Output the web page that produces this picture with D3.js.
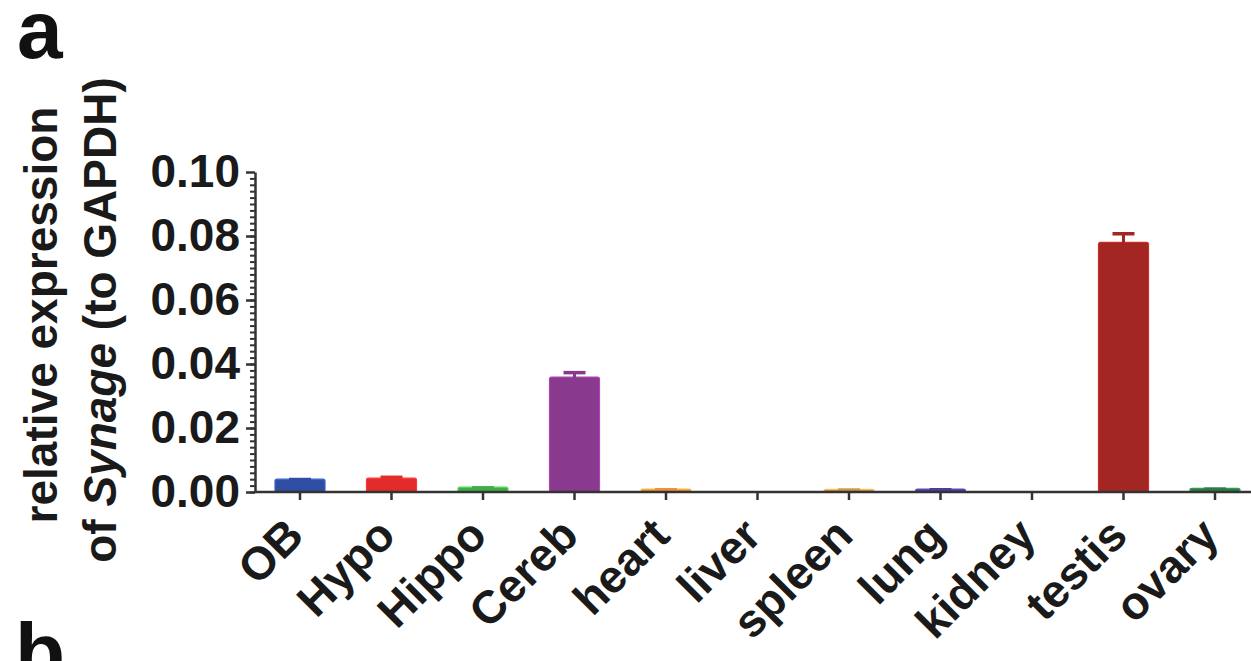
<!DOCTYPE html>
<html>
<head>
<meta charset="utf-8">
<script src="https://cdn.jsdelivr.net/npm/d3@7"></script>
<style>
  html, body { margin: 0; padding: 0; background: #ffffff; }
  svg { display: block; font-family: "Liberation Sans", Arial, Helvetica, sans-serif; }
</style>
</head>
<body>
<svg id="chart" width="1251" height="661"></svg>
<script>
const categories = ['OB', 'Hypo', 'Hippo', 'Cereb', 'heart', 'liver', 'spleen', 'lung', 'kidney', 'testis', 'ovary'];
const means = [0.0037, 0.0040, 0.0012, 0.0356, 0.0006, 0.0000, 0.0005, 0.0006, 0.0000, 0.0777, 0.0008];
const errors = [0.0002, 0.0006, 0.0001, 0.0017, 0.0001, 0.0000, 0.0001, 0.0001, 0.0000, 0.0030, 0.0001];
const barColors = ['#2f4ea3', '#e42b2b', '#3fae49', '#8a3a8e', '#f0913a', '#e6c23a', '#c99a4f', '#4b3f9e', '#777777', '#a42622', '#2c7d45'];
const yTicks = [0, 0.02, 0.04, 0.06, 0.08, 0.10];

const svg = d3.select('#chart');
const axisColor = '#333333';

const x = d3.scaleBand()
  .domain(categories)
  .range([255, 1260])
  .paddingInner(0.4536)
  .paddingOuter(0.2186);

const y = d3.scaleLinear()
  .domain([0, 0.1])
  .range([492, 172]);

// panel letters
svg.append('text')
  .attr('x', 17)
  .attr('y', 58)
  .style('font-size', '82px')
  .style('font-weight', 'bold')
  .style('fill', '#111')
  .text('a');
svg.append('text')
  .attr('x', 15)
  .attr('y', 680)
  .style('font-size', '82px')
  .style('font-weight', 'bold')
  .style('fill', '#111')
  .text('b');

// bars
svg.append('g')
  .selectAll('rect')
  .data(categories)
  .enter().append('rect')
  .attr('x', d => x(d))
  .attr('y', (d, i) => y(means[i]) - 1)
  .attr('width', x.bandwidth())
  .attr('height', (d, i) => y(0) - y(means[i]) + 1)
  .attr('rx', 2)
  .style('fill', (d, i) => barColors[i])
  .style('stroke', (d, i) => d3.color(barColors[i]).brighter(0.6))
  .style('stroke-width', 1.2)
  .style('opacity', (d, i) => means[i] > 0 ? 1 : 0);

// error bars (upper half only)
const errG = svg.append('g');
categories.forEach((c, i) => {
  if (errors[i] <= 0) return;
  const cx = x(c) + x.bandwidth() / 2;
  errG.append('line')
    .attr('x1', cx).attr('x2', cx)
    .attr('y1', y(means[i])).attr('y2', y(means[i] + errors[i]))
    .style('stroke', barColors[i])
    .style('stroke-width', 3);
  errG.append('line')
    .attr('x1', cx - 11).attr('x2', cx + 11)
    .attr('y1', y(means[i] + errors[i])).attr('y2', y(means[i] + errors[i]))
    .style('stroke', barColors[i])
    .style('stroke-width', 3.5);
});

// y axis: minor ticks then major
const minorTicks = d3.range(0, 50).map(k => k * 0.002);
svg.append('g')
  .attr('transform', 'translate(255,0)')
  .call(d3.axisLeft(y).tickValues(minorTicks).tickSize(5).tickSizeOuter(0).tickFormat(''))
  .call(g => g.select('.domain').remove())
  .call(g => g.selectAll('.tick line').style('stroke', axisColor).style('stroke-width', 2));

svg.append('g')
  .attr('transform', 'translate(255,0)')
  .call(d3.axisLeft(y).tickValues(yTicks).tickSize(9).tickSizeOuter(0).tickPadding(6).tickFormat(d3.format('.2f')))
  .call(g => g.select('.domain').style('stroke', axisColor).style('stroke-width', 2.5))
  .call(g => g.selectAll('.tick line').style('stroke', axisColor).style('stroke-width', 2.5))
  .call(g => g.selectAll('.tick text')
    .style('font-family', '"Liberation Sans", Arial, Helvetica, sans-serif')
    .style('font-size', '46px')
    .style('font-weight', 'bold')
    .style('fill', '#1a1a1a'));

// x axis
svg.append('g')
  .attr('transform', `translate(0,${y(0)})`)
  .call(d3.axisBottom(x).tickSize(8).tickSizeOuter(0))
  .call(g => g.select('.domain').attr('d', `M255,0H1251`).style('stroke', axisColor).style('stroke-width', 2.5))
  .call(g => g.selectAll('.tick line').style('stroke', axisColor).style('stroke-width', 2.5))
  .call(g => g.selectAll('.tick text')
    .attr('x', 0)
    .attr('y', 0)
    .attr('dy', 0)
    .attr('transform', 'translate(6,46) rotate(-45)')
    .style('text-anchor', 'end')
    .style('font-family', '"Liberation Sans", Arial, Helvetica, sans-serif')
    .style('font-size', '46px')
    .style('font-weight', 'bold')
    .style('fill', '#1a1a1a'));

// y axis title, two lines
svg.append('text')
  .attr('transform', 'translate(57,315) rotate(-90)')
  .style('text-anchor', 'middle')
  .style('font-size', '46px')
  .style('font-weight', 'bold')
  .style('fill', '#1a1a1a')
  .text('relative expression');

const t2 = svg.append('text')
  .attr('transform', 'translate(116,320) rotate(-90)')
  .style('text-anchor', 'middle')
  .style('font-size', '46px')
  .style('font-weight', 'bold')
  .style('fill', '#1a1a1a');
t2.append('tspan').text('of ');
t2.append('tspan').style('font-style', 'italic').text('Synage');
t2.append('tspan').text(' (to GAPDH)');
</script>
</body>
</html>
